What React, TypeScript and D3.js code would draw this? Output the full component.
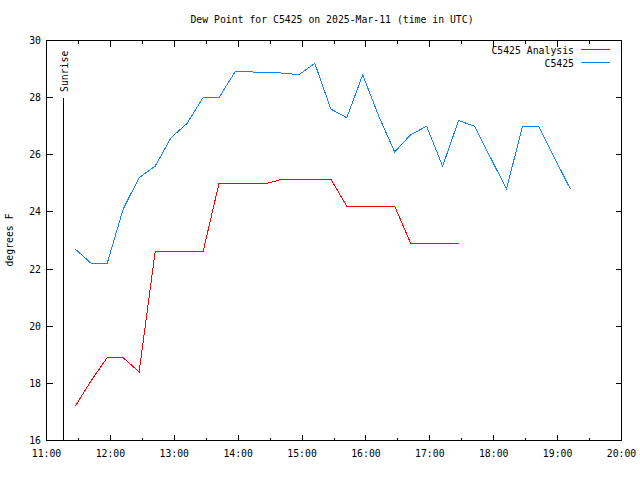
import React from "react";
import * as d3 from "d3";

const title = "Dew Point for C5425 on 2025-Mar-11 (time in UTC)";
const yLabel = "degrees F";

const stationTimes = [
  "11:27", "11:42", "11:57", "12:12", "12:27", "12:42", "12:57", "13:12",
  "13:27", "13:42", "13:57", "14:12", "14:27", "14:42", "14:57", "15:12",
  "15:27", "15:42", "15:57", "16:12", "16:27", "16:42", "16:57", "17:12",
  "17:27", "17:42", "17:57", "18:12", "18:27", "18:42", "18:57", "19:12",
];
const stationValues = [
  22.7, 22.2, 22.2, 24.1, 25.2, 25.6, 26.6, 27.1,
  28.0, 28.0, 28.9, 28.9, 28.88, 28.86, 28.8, 29.2,
  27.6, 27.3, 28.8, 27.35, 26.1, 26.7, 27.0, 25.6,
  27.2, 27.0, 25.9, 24.8, 27.0, 27.0, 25.9, 24.8,
];

const analysisTimes = stationTimes.slice(0, 25);
const analysisValues = [
  17.2, 18.1, 18.9, 18.9, 18.4, 22.6, 22.6, 22.6,
  22.6, 25.0, 25.0, 25.0, 25.0, 25.15, 25.15, 25.15,
  25.15, 24.2, 24.2, 24.2, 24.2, 22.9, 22.9, 22.9,
  22.9,
];

const xTickLabels = ["11:00", "12:00", "13:00", "14:00", "15:00", "16:00", "17:00", "18:00", "19:00", "20:00"];
const yTickValues = [16, 18, 20, 22, 24, 26, 28, 30];
const sunriseTime = "11:16";

const toHours = (s: string) => {
  const [h, m] = s.split(":").map(Number);
  return h + m / 60;
};

const FONT = "'DejaVu Sans Mono', 'Liberation Mono', monospace";

export default function App() {
  const W = 640, H = 480;
  const x = d3.scaleLinear().domain([11, 20]).range([46.5, 621.5]);
  const y = d3.scaleLinear().domain([16, 30]).range([440.5, 40.5]);

  const line = d3
    .line<[number, number]>()
    .x((d) => x(d[0]))
    .y((d) => y(d[1]));

  const stationPts: [number, number][] = stationTimes.map((t, i) => [toHours(t), stationValues[i]]);
  const analysisPts: [number, number][] = analysisTimes.map((t, i) => [toHours(t), analysisValues[i]]);

  const majorX = xTickLabels.map(toHours);
  const minorX = d3.range(11.5, 20, 1);
  const sx = Math.round(x(toHours(sunriseTime)) - 0.5) + 0.5;

  const left = x(11), right = x(20), top = y(30), bottom = y(16);

  return (
    <svg width={W} height={H} style={{ position: "absolute", left: 0, top: 0, background: "#fff" }}>
      <rect x={0} y={0} width={W} height={H} fill="#fff" />
      <text x={332} y={23} textAnchor="middle" fontFamily={FONT} fontSize={9.8} fill="#000">
        {title}
      </text>

      {/* ticks */}
      <g stroke="#000" strokeWidth={1} shapeRendering="crispEdges">
        {majorX.map((h, i) => (
          <g key={"mx" + i}>
            <line x1={x(h)} x2={x(h)} y1={bottom} y2={bottom - 6} />
            <line x1={x(h)} x2={x(h)} y1={top} y2={top + 6} />
          </g>
        ))}
        {minorX.map((h, i) => (
          <g key={"nx" + i}>
            <line x1={x(h)} x2={x(h)} y1={bottom} y2={bottom - 3} />
            <line x1={x(h)} x2={x(h)} y1={top} y2={top + 3} />
          </g>
        ))}
        {yTickValues.map((v, i) => (
          <g key={"y" + i}>
            <line x1={left} x2={left + 6} y1={y(v)} y2={y(v)} />
            <line x1={right} x2={right - 6} y1={y(v)} y2={y(v)} />
          </g>
        ))}
      </g>

      {/* tick labels */}
      <g fontFamily={FONT} fontSize={9.8} fill="#000">
        {xTickLabels.map((l, i) => (
          <text key={"xl" + i} x={x(majorX[i])} y={457} textAnchor="middle">
            {l}
          </text>
        ))}
        {yTickValues.map((v, i) => (
          <text key={"yl" + i} x={41} y={y(v) + 3.5} textAnchor="end">
            {v}
          </text>
        ))}
        <text transform={`translate(13,240) rotate(-90)`} textAnchor="middle">
          {yLabel}
        </text>
      </g>

      {/* sunrise */}
      <line x1={sx} x2={sx} y1={98} y2={bottom} stroke="#000" strokeWidth={1} shapeRendering="crispEdges" />
      <text transform={`translate(${sx + 4},92) rotate(-90)`} fontFamily={FONT} fontSize={9.8} fill="#000">
        Sunrise
      </text>

      {/* series */}
      <path d={line(analysisPts) ?? ""} fill="none" stroke="#ff0000" strokeWidth={1} shapeRendering="crispEdges" />
      <path d={line(stationPts) ?? ""} fill="none" stroke="#1080ff" strokeWidth={1} shapeRendering="crispEdges" />

      {/* frame */}
      <rect
        x={left}
        y={top}
        width={right - left}
        height={bottom - top}
        fill="none"
        stroke="#000"
        strokeWidth={1}
        shapeRendering="crispEdges"
      />

      {/* legend */}
      <g fontFamily={FONT} fontSize={9.8} fill="#000">
        <text x={574} y={53.5} textAnchor="end">C5425 Analysis</text>
        <text x={574} y={66.5} textAnchor="end">C5425</text>
      </g>
      <line x1={581} x2={610} y1={49.5} y2={49.5} stroke="#ff0000" strokeWidth={1} shapeRendering="crispEdges" />
      <line x1={581} x2={610} y1={62.5} y2={62.5} stroke="#1080ff" strokeWidth={1} shapeRendering="crispEdges" />
    </svg>
  );
}
